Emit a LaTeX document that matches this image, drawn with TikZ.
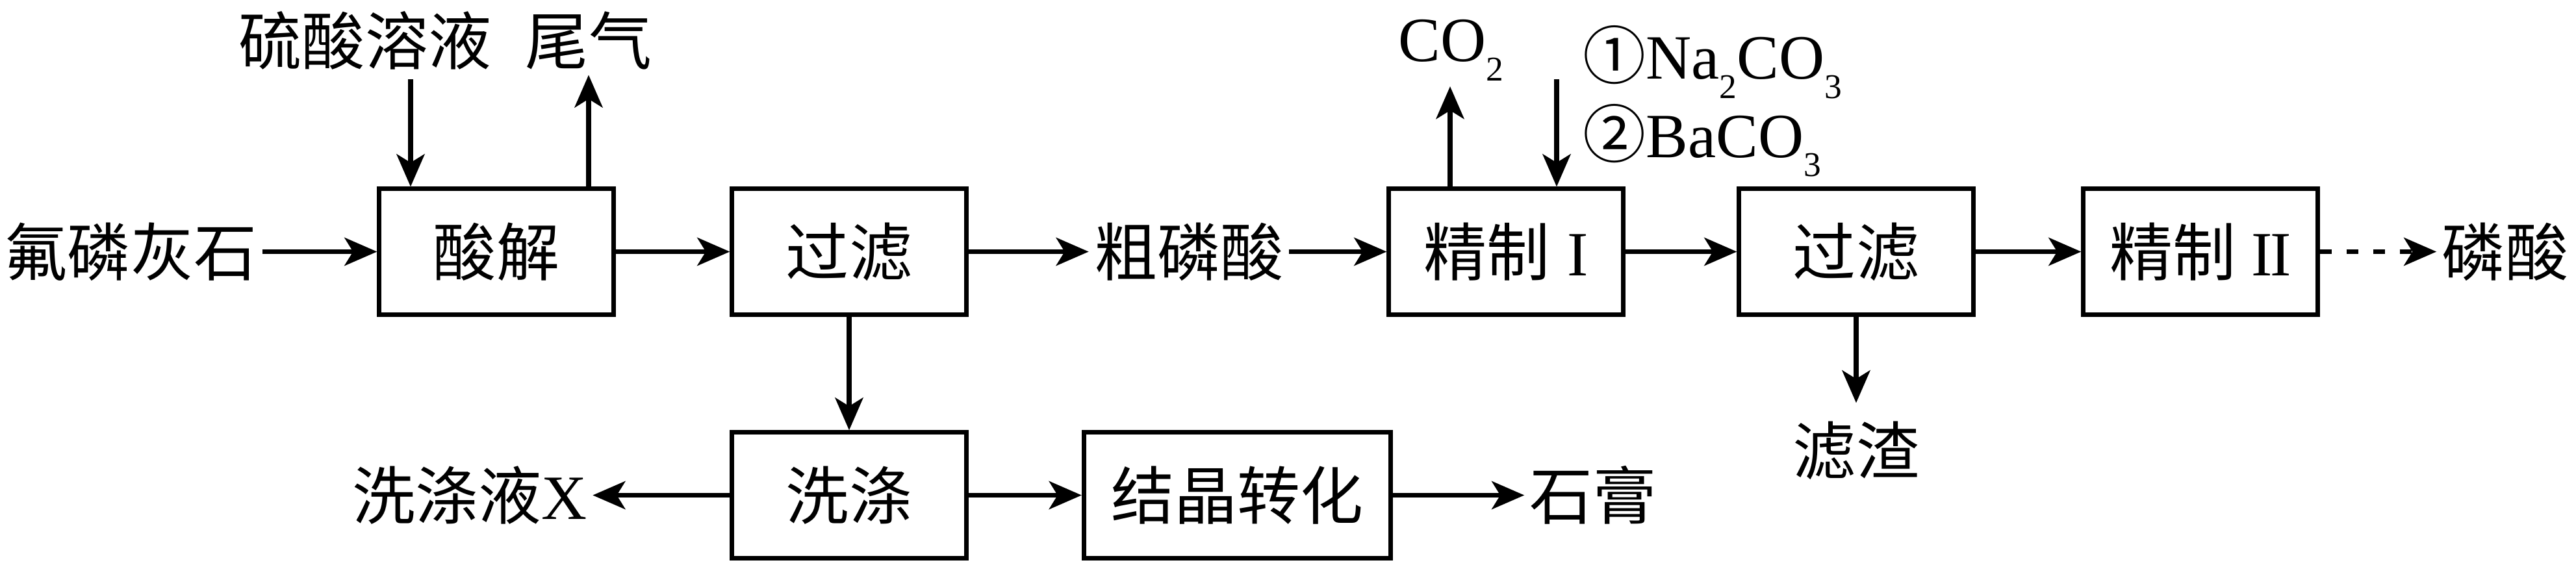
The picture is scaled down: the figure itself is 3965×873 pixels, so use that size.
\documentclass[tikz,border=0pt]{standalone}
\usepackage{fontspec}
\setmainfont{Liberation Serif}
\newfontfamily\cjk{Noto Sans CJK SC}
\usetikzlibrary{arrows.meta}
\newcommand\chsub[1]{\raisebox{-0.3em}{\fontsize{15.2pt}{16pt}\selectfont #1}}
\begin{document}
\begin{tikzpicture}[x=0.01cm,y=-0.01cm,
  fs/.style={font=\fontsize{27.6pt}{33pt}\selectfont},
  box/.style={draw, line width=0.07cm, minimum width=3.6cm, minimum height=1.93cm, inner sep=0pt, fs},
  txt/.style={inner sep=0.08cm, fs},
  arr/.style={line width=0.075cm, -{Stealth[length=0.5cm,width=0.43cm,inset=0.13cm]}}]
\useasboundingbox (0,0) rectangle (3965,873);

% top row
\node[txt] (fl) at (201,387.5) {\cjk 氟磷灰石};
\node[box] (sj) at (764,387.5) {\cjk 酸解};
\node[box] (gl1) at (1307,387.5) {\cjk 过滤};
\node[txt] (clj) at (1830,387.5) {\cjk 粗磷酸};
\node[box] (jz1) at (2318,387.5) {\cjk 精制\hspace{0.28em}\rmfamily I};
\node[box] (gl2) at (2857,387.5) {\cjk 过滤};
\node[box] (jz2) at (3387,387.5) {\cjk 精制\hspace{0.25em}\rmfamily I\kern-0.035em I};
\node[txt] (lsuan) at (3856,387.5) {\cjk 磷酸};

% bottom row
\node[box] (xd) at (1307,762.5) {\cjk 洗涤};
\node[box, minimum width=4.72cm] (jj) at (1904.5,762.5) {\cjk 结晶转化};
\node[txt] (xdy) at (723,762.5) {\cjk 洗涤液\rmfamily X};
\node[txt] (sg) at (2452,762.5) {\cjk 石膏};
\node[txt] (lz) at (2857,694) {\cjk 滤渣};

% top labels
\node[txt] (ls) at (562,62) {\cjk 硫酸溶液};
\node[txt] (wq) at (906,62) {\cjk 尾气};
\node[fs, inner sep=0pt, anchor=base west] (co2) at (2152,95) {CO\chsub{2}};
\node[fs, inner sep=0pt, anchor=base west] (na) at (2436,122) {{\cjk ①}Na\chsub{2}CO\chsub{3}};
\node[fs, inner sep=0pt, anchor=base west] (ba) at (2436,242) {{\cjk ②}BaCO\chsub{3}};

% connectors
\draw[arr] (fl) -- (sj);
\draw[arr] (sj) -- (gl1);
\draw[arr] (gl1) -- (clj);
\draw[arr] (clj) -- (jz1);
\draw[arr] (jz1) -- (gl2);
\draw[arr] (gl2) -- (jz2);
\draw[arr, dash pattern=on 0.18cm off 0.23cm] (jz2) -- (lsuan);
\draw[arr] (gl1) -- (xd);
\draw[arr] (xd) -- (xdy);
\draw[arr] (xd) -- (jj);
\draw[arr] (jj) -- (sg);
\draw[arr, shorten >=0.2cm] (gl2) -- (lz);

\coordinate (a1) at (632,122);
\draw[arr] (a1) -- (a1 |- sj.north);
\draw[arr] (wq.south |- sj.north) -- (wq.south);
\coordinate (c1) at (2232,133);
\draw[arr] (c1 |- jz1.north) -- (c1);
\coordinate (c2) at (2396,122);
\draw[arr] (c2) -- (c2 |- jz1.north);
\end{tikzpicture}
\end{document}
